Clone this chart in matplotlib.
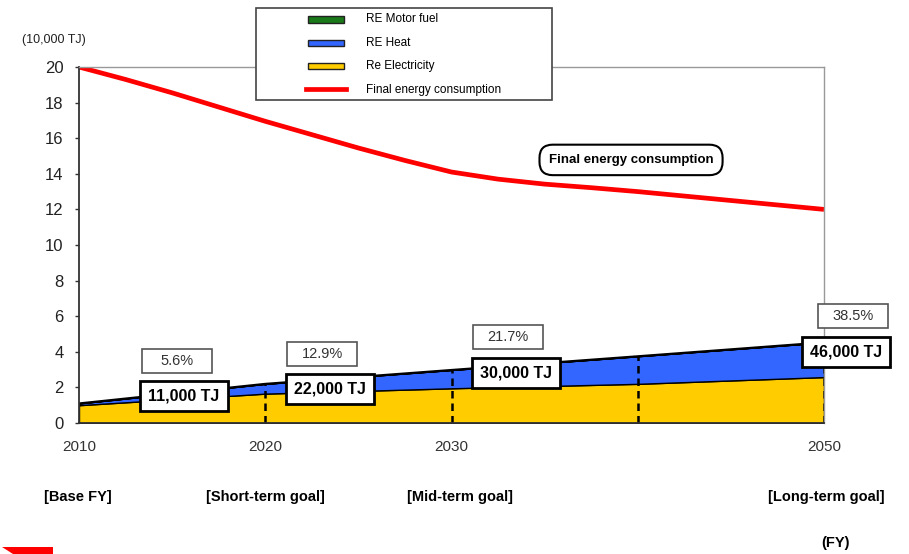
import matplotlib.pyplot as plt
from matplotlib.patches import Rectangle, Polygon
from matplotlib.lines import Line2D

plt.rcParams['font.family'] = ['Liberation Sans', 'DejaVu Sans']

# stacked renewable energy (10,000 TJ)
years = [2010, 2020, 2030, 2040, 2050]
re_elec = [1.0, 1.65, 1.95, 2.2, 2.58]
re_heat = [0.1, 0.55, 1.03, 1.55, 1.95]
re_motor = [0.0, 0.0, 0.0, 0.0, 0.0]

# final energy consumption (10,000 TJ)
fec_years = [2010, 2012.5, 2015, 2017.5, 2020, 2022.5, 2025, 2027.5, 2030,
             2032.5, 2035, 2037.5, 2040, 2042.5, 2045, 2047.5, 2050]
fec = [20.0, 19.3, 18.55, 17.75, 16.95, 16.2, 15.45, 14.75, 14.1,
       13.7, 13.42, 13.22, 13.0, 12.75, 12.5, 12.25, 12.0]

xticks = [2010, 2020, 2030, 2050]
goal_labels = ['[Base FY]', '[Short-term goal]', '[Mid-term goal]', '[Long-term goal]']
goal_x = [78, 265, 460, 826]

share_labels = ['5.6%', '12.9%', '21.7%', '38.5%']
tj_labels = ['11,000 TJ', '22,000 TJ', '30,000 TJ', '46,000 TJ']
share_pos = [(2015.26, 3.48), (2023.05, 3.88), (2033.03, 4.83), (2051.56, 6.01)]
tj_pos = [(2015.64, 1.52), (2023.48, 1.91), (2033.46, 2.81), (2051.18, 3.99)]

c_elec = '#ffcc00'
c_heat = '#3366ff'
c_motor = '#1a7a1a'
c_fec = '#ff0000'

fig = plt.figure(figsize=(9.09, 5.54), dpi=100)
ax = fig.add_axes([79/909, 1-423/554, 745/909, 356/554])

ax.stackplot(years, re_elec, re_heat, re_motor,
             colors=[c_elec, c_heat, c_motor], edgecolor='black', linewidth=1.0)
tops = [a + b + c for a, b, c in zip(re_elec, re_heat, re_motor)]
ax.plot(years, tops, color='black', lw=1.5)
ax.vlines(years[1:], 0, tops[1:], colors='black', linestyles=(0, (3, 2)), lw=1.8)
ax.plot(fec_years, fec, color=c_fec, lw=3.4, solid_capstyle='butt', solid_joinstyle='round')

ax.set_xlim(2010, 2050)
ax.set_ylim(0, 20)
ax.set_xticks(xticks)
ax.set_yticks(range(0, 21, 2))
ax.tick_params(axis='x', length=0, pad=12, labelsize=11, labelcolor='#333333')
ax.tick_params(axis='y', length=3, width=1, direction='out', pad=8,
               labelsize=12, labelcolor='#222222', color='#333333')
for s in ['left', 'bottom']:
    ax.spines[s].set_color('#333333')
    ax.spines[s].set_linewidth(1.3)
for s in ['top', 'right']:
    ax.spines[s].set_color('#999999')
    ax.spines[s].set_linewidth(1.0)

# percentage and TJ boxes
bw, bh = 70/18.625, 24/17.8
tw, th = 88/18.625, 30/17.8
for (x, y), lab in zip(share_pos, share_labels):
    ax.add_patch(Rectangle((x - bw/2, y - bh/2), bw, bh, facecolor='white',
                           edgecolor='#555555', lw=1.2, clip_on=False, zorder=5))
    ax.text(x, y, lab, ha='center', va='center', fontsize=10.5, color='#333333',
            zorder=6, clip_on=False)
for (x, y), lab in zip(tj_pos, tj_labels):
    ax.add_patch(Rectangle((x - tw/2, y - th/2), tw, th, facecolor='white',
                           edgecolor='black', lw=2, clip_on=False, zorder=5))
    ax.text(x, y, lab, ha='center', va='center', fontsize=11.5, fontweight='bold',
            color='black', zorder=6, clip_on=False)

ax.text(2039.64, 14.78, 'Final energy consumption', ha='center', va='center',
        fontsize=9.5, fontweight='bold',
        bbox=dict(boxstyle='round,pad=0.7,rounding_size=1.0', fc='white', ec='black', lw=1.5))

# unit label and goal labels
fig.text(54/909, 1-40/554, '(10,000 TJ)', ha='center', va='center', fontsize=9, color='#222222')
for gx, lab in zip(goal_x, goal_labels):
    fig.text(gx/909, 1-497/554, lab, ha='center', va='center', fontsize=10.5,
             fontweight='bold')
fig.text(835/909, 1-543/554, '(FY)', ha='center', va='center', fontsize=10.5,
         fontweight='bold')

# legend drawn by hand
W, H = 909, 554
def fx(px):
    return px / W
def fy(py):
    return 1 - py / H
fig.patches.append(Rectangle((fx(256), fy(100)), fx(296), 92/H, transform=fig.transFigure,
                             facecolor='white', edgecolor='#444444', lw=1.2, zorder=10))
leg_items = [('RE Motor fuel', c_motor, 19.5), ('RE Heat', c_heat, 43),
             ('Re Electricity', c_elec, 66)]
for lab, col, py in leg_items:
    fig.patches.append(Rectangle((fx(308), fy(py + 3)), fx(36), 6/H, transform=fig.transFigure,
                                 facecolor=col, edgecolor='#222222', lw=1, zorder=11))
    fig.text(fx(366), fy(py), lab, ha='left', va='center', fontsize=8.5, zorder=12)
fig.lines.append(Line2D([fx(306), fx(346)], [fy(89), fy(89)], transform=fig.transFigure,
                        color=c_fec, lw=3.4, zorder=11))
fig.text(fx(366), fy(90), 'Final energy consumption', ha='left', va='center', fontsize=8.5,
         zorder=12)

# red corner mark
fig.patches.append(Polygon([(fx(2), fy(547)), (fx(53), fy(547)), (fx(53), 0), (fx(13), 0)],
                           closed=True, transform=fig.transFigure, facecolor='#ff0000',
                           edgecolor='none'))

fig.savefig('out.png', dpi=100)
